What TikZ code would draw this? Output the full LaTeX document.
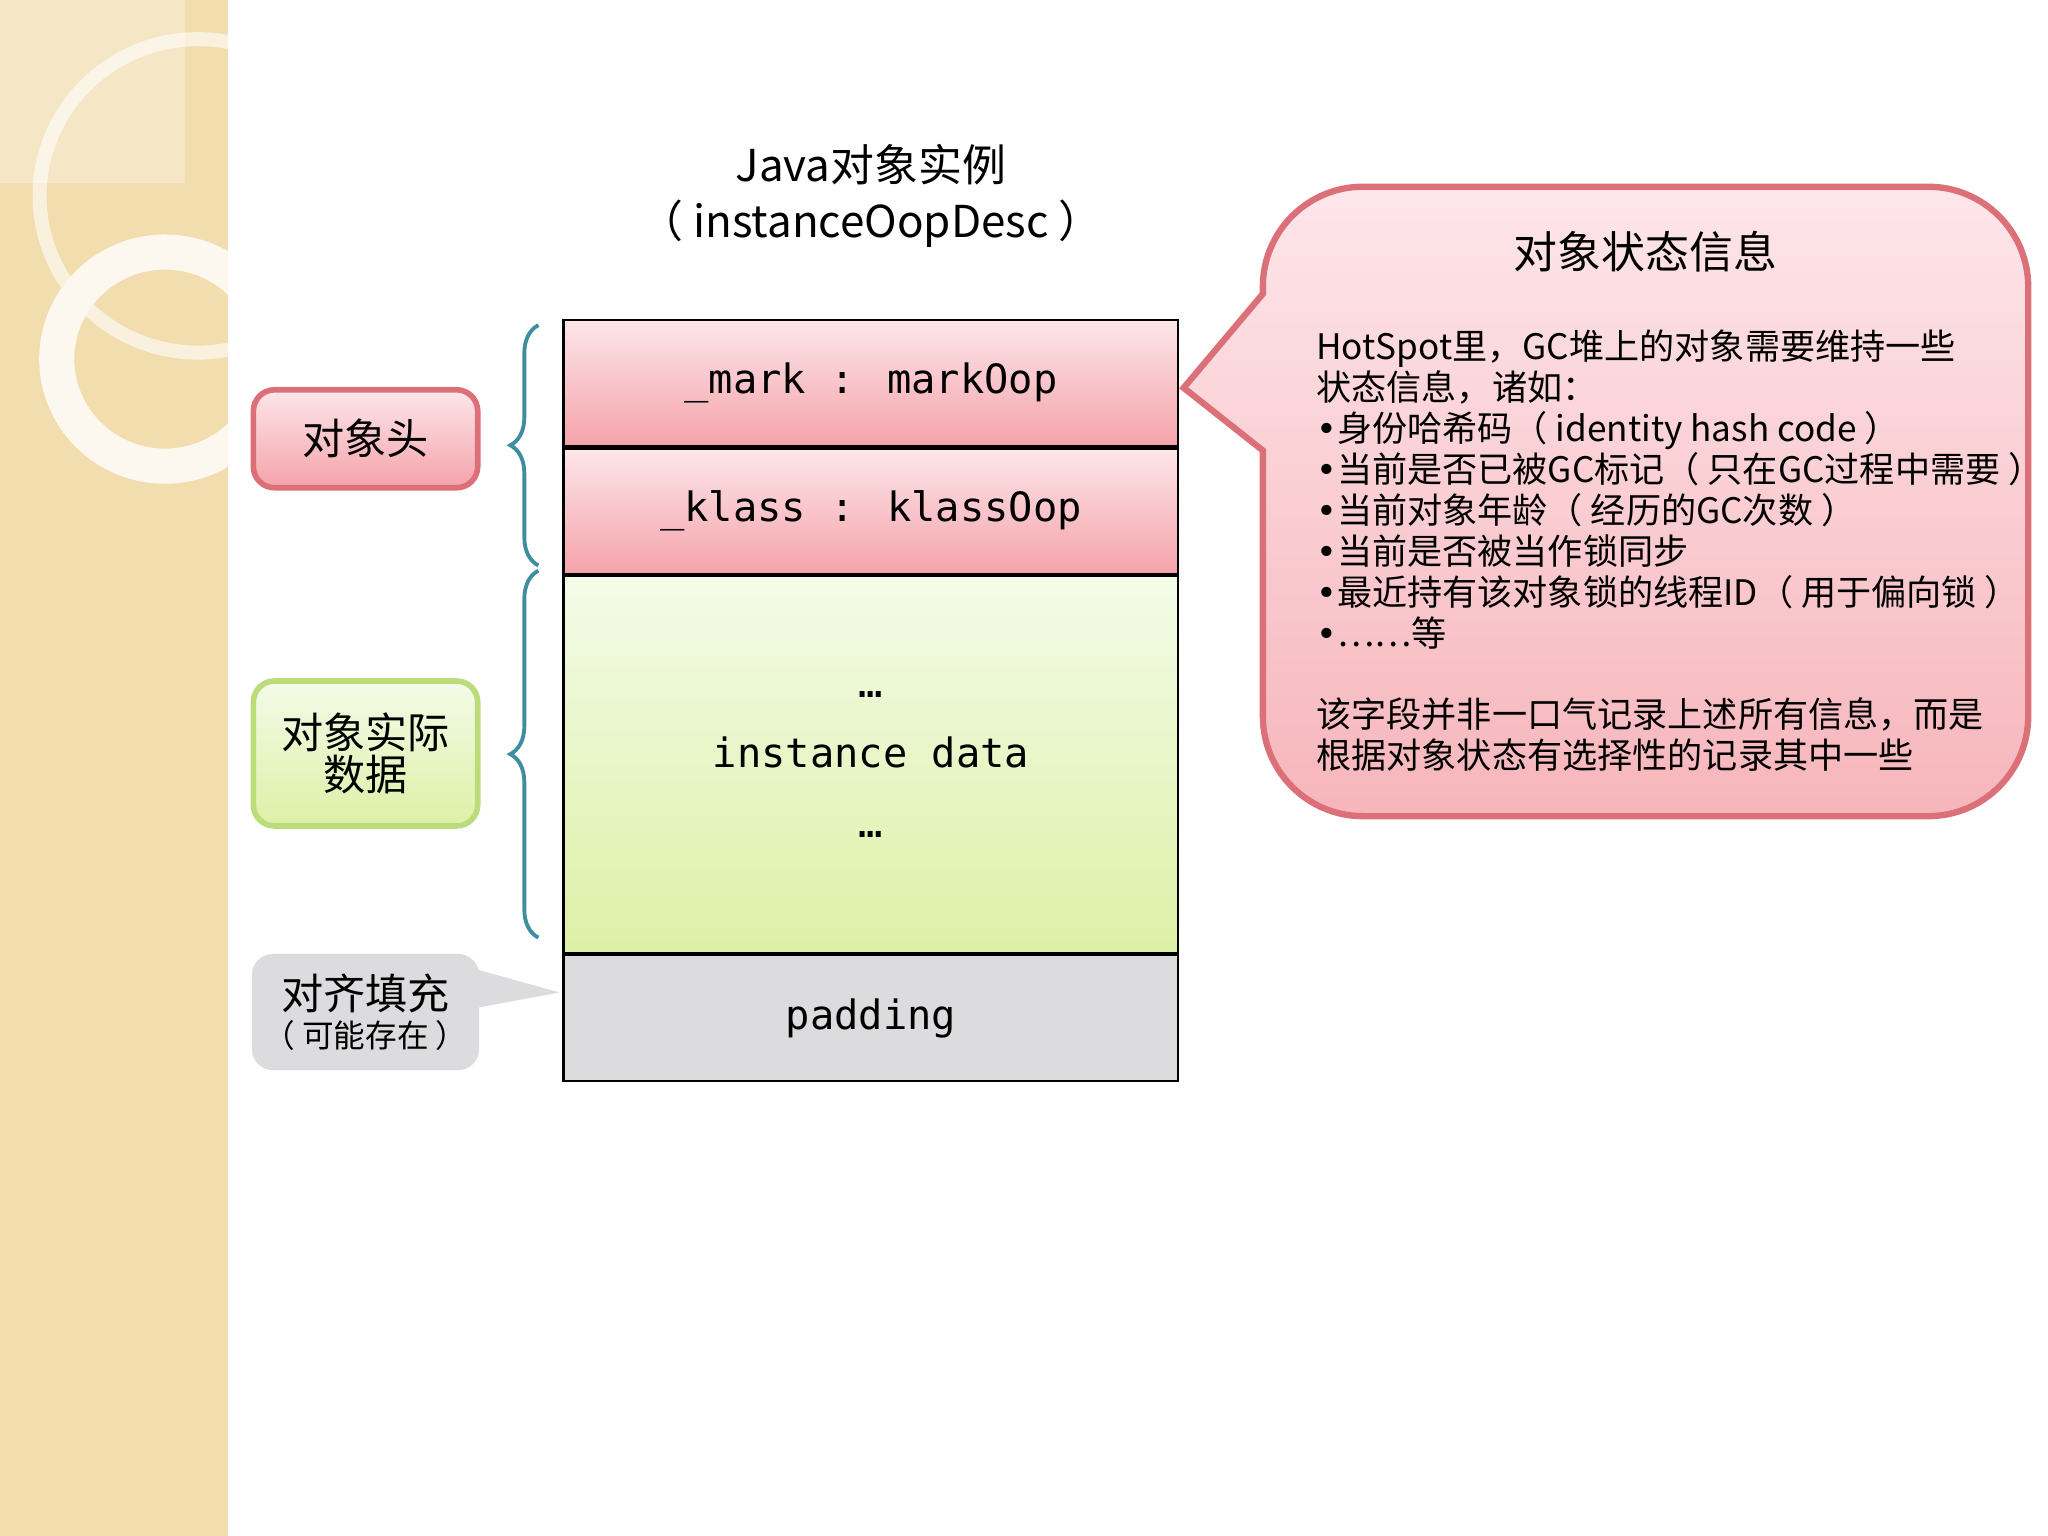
\documentclass[tikz,border=0pt]{standalone}
\usepackage{fontspec}
\setmainfont{Noto Sans CJK SC}
\newfontfamily\monofont{DejaVu Sans Mono}
\newfontfamily\bulletfont{DejaVu Sans}
\usetikzlibrary{positioning,decorations.pathreplacing}
\definecolor{sidebar}{HTML}{F1DDAE}
\definecolor{pinktop}{HTML}{FDE6EA}
\definecolor{pinkbot}{HTML}{F4A3AA}
\definecolor{pinkline}{HTML}{DB7079}
\definecolor{greentop}{HTML}{F4FBE8}
\definecolor{greenbot}{HTML}{DDF0A6}
\definecolor{greenline}{HTML}{BCDC7C}
\definecolor{greyfill}{HTML}{DCDBDD}
\definecolor{bracecol}{HTML}{3E8EA0}
\newcommand{\itm}{{\bulletfont\char"2022}}
\tikzset{
  row/.style={draw=black, semithick, minimum width=466*0.0132cm, inner sep=0pt, font=\monofont\fontsize{11.5}{14}\selectfont},
  pinkrow/.style={row, top color=pinktop, bottom color=pinkbot},
  tag/.style={rounded corners=6pt, line width=1.6pt, minimum width=170*0.0132cm, align=center, font=\fontsize{12}{15}\selectfont},
  hbrace/.style={draw=bracecol, line width=1.1pt, decorate, decoration={brace, amplitude=8pt, mirror}},
}
\begin{document}
\begin{tikzpicture}[x=0.0132cm, y=-0.01306cm]
\useasboundingbox (0,0) rectangle (1552,1176);
% sidebar
\fill[sidebar] (0,0) rectangle (173,1176);
\begin{scope}
\clip (0,0) rectangle (173,1176);
\draw[white, opacity=0.6, line width=4pt] (150,150) circle (120);
\draw[white!80!sidebar, line width=10pt] (125,275) circle (82);
\fill[white, opacity=0.3] (0,0) rectangle (140,140);
\end{scope}
% title
\node[align=center, font=\fontsize{12.5}{16}\selectfont] (title) at (660,150) {Java对象实例\\（ instanceOopDesc ）};
% object layout
\node[pinkrow, minimum height=97*0.01306cm, anchor=north] (mark) at (660,244) {\_mark : markOop};
\node[pinkrow, minimum height=96*0.01306cm, below=0pt of mark] (klass) {\_klass : klassOop};
\node[row, top color=greentop, bottom color=greenbot, minimum height=289*0.01306cm, below=0pt of klass, align=center] (data) {…\\[6pt]instance data\\[6pt]…};
\node[row, fill=greyfill, minimum height=96*0.01306cm, below=0pt of data] (padding) {padding};
% labels
\node[tag, draw=pinkline, top color=pinktop, bottom color=pinkbot, minimum height=75*0.01306cm] (header) at (277,336) {对象头};
\node[tag, draw=greenline, top color=greentop, bottom color=greenbot, minimum height=111*0.01306cm] (body) at (277,577) {对象实际\\[-3pt]数据};
\fill[greyfill] (360,742) -- (424,760) -- (360,772) -- cycle;
\node[tag, draw=none, fill=greyfill, minimum height=89*0.01306cm] (pad) at (277,775) {对齐填充\\[-4pt]{\fontsize{9}{11}\selectfont（ 可能存在 ）}};
% braces
\coordinate (b1) at (408,249);
\coordinate (b2) at (408,433);
\coordinate (b3) at (408,437);
\coordinate (b4) at (408,718);
\draw[hbrace] (b1) -- (b2);
\draw[hbrace] (b3) -- (b4);
% status callout
\shade[top color=pinktop, bottom color=pinkbot!80!white, draw=pinkline, line width=1.8pt]
  (957,345) [rounded corners=1cm] -- (957,625) -- (1537,625) -- (1537,143) -- (957,143) [sharp corners] -- (957,225) -- (897,297) -- cycle;
\node[font=\fontsize{12.5}{16}\selectfont] (stitle) at (1247,193) {对象状态信息};
\node[anchor=north west, align=left, inner sep=0pt, font=\fontsize{10}{11.65}\selectfont] (stext) at (997,252) {%
HotSpot里，GC堆上的对象需要维持一些\\
状态信息，诸如：\\
\itm 身份哈希码（ identity hash code ）\\
\itm 当前是否已被GC标记（ 只在GC过程中需要 ）\\
\itm 当前对象年龄（ 经历的GC次数 ）\\
\itm 当前是否被当作锁同步\\
\itm 最近持有该对象锁的线程ID（ 用于偏向锁 ）\\
\itm ……等\\[11.65pt]
该字段并非一口气记录上述所有信息，而是\\
根据对象状态有选择性的记录其中一些};
\end{tikzpicture}
\end{document}
